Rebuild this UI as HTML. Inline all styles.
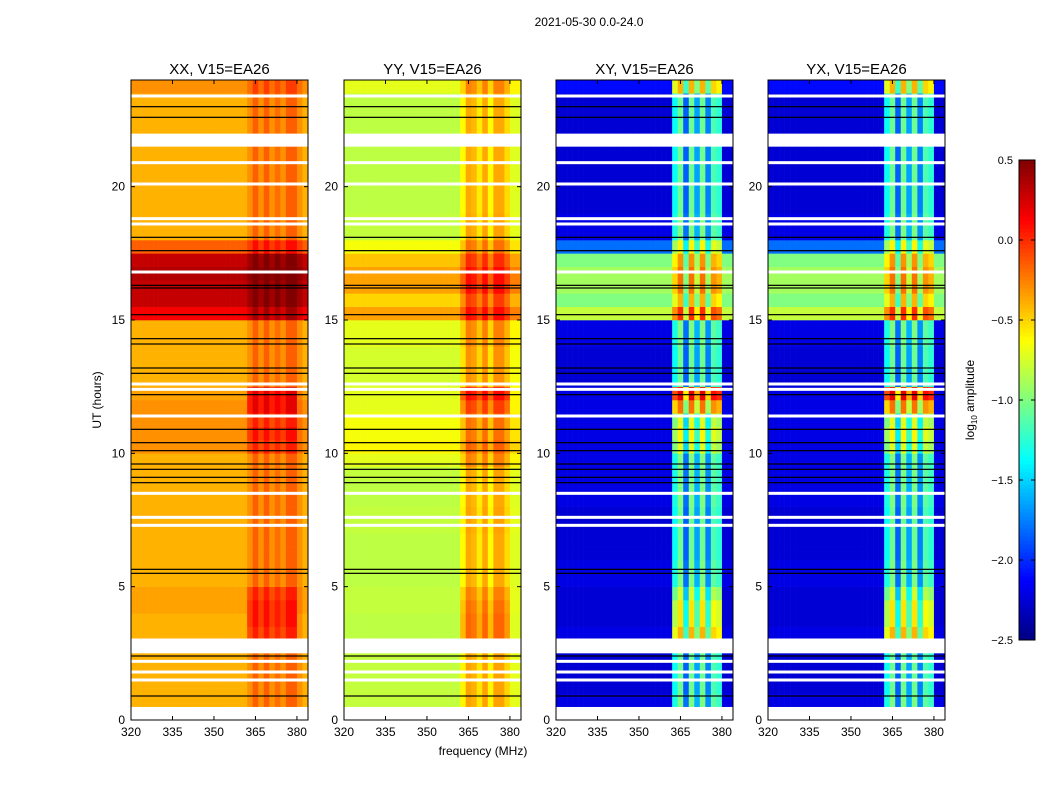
<!DOCTYPE html>
<html><head><meta charset="utf-8">
<style>
body{margin:0;background:#fff;font-family:"Liberation Sans","DejaVu Sans",sans-serif;}
svg text{font-family:"Liberation Sans","DejaVu Sans",sans-serif;}
</style></head>
<body>
<svg id="fig" width="1050" height="800" xmlns="http://www.w3.org/2000/svg">
<text x="589" y="26" font-size="12" text-anchor="middle">2021-05-30 0.0-24.0</text>
<text x="483" y="755" font-size="12" text-anchor="middle">frequency (MHz)</text>
<text transform="translate(101,400) rotate(-90)" font-size="12" text-anchor="middle">UT (hours)</text>
</svg>
<script>
const panelTitles = ["XX, V15=EA26","YY, V15=EA26","XY, V15=EA26","YX, V15=EA26"];
const panelLeft = [131,344,556,768];
const xTicks = [320,335,350,365,380];
const yTicks = [0,5,10,15,20];
const cbTicks = [0.5,0.0,-0.5,-1.0,-1.5,-2.0,-2.5];
const N=NaN;
// row levels: 48 half-hour rows (0-24 h)
const rowsXX = [N,-0.4,-0.4,-0.4,-0.4,N,-0.4,-0.4,-0.35,-0.35,-0.4,-0.4,-0.4,-0.4,-0.4,-0.4,-0.4,-0.4,-0.4,-0.4,-0.3,-0.3,-0.3,-0.3,-0.35,-0.4,-0.4,-0.4,-0.4,-0.4,0.15,0.3,0.3,0.35,0.3,-0.15,-0.4,-0.4,-0.4,-0.4,-0.4,-0.4,-0.4,N,-0.4,-0.4,-0.4,-0.3];
const rowsYY = [N,-0.8,-0.8,-0.8,-0.8,N,-0.82,-0.82,-0.8,-0.8,-0.82,-0.82,-0.82,-0.82,-0.8,-0.8,-0.82,-0.82,-0.8,-0.7,-0.6,-0.65,-0.65,-0.7,-0.7,-0.75,-0.75,-0.75,-0.7,-0.7,-0.35,-0.5,-0.35,-0.35,-0.45,-0.65,-0.8,-0.8,-0.82,-0.82,-0.82,-0.82,-0.82,N,-0.82,-0.82,-0.82,-0.7];
const rowsXY = [N,-2.2,-2.25,-2.25,-2.25,N,-2.2,-2.25,-2.25,-2.25,-2.2,-2.2,-2.25,-2.25,-2.25,-2.25,-2.2,-2.2,-2.2,-2.2,-2.2,-2.2,-2.2,-2.2,-2.2,-2.25,-2.25,-2.25,-2.2,-2.2,-0.8,-1.0,-0.9,-0.9,-1.0,-1.8,-2.2,-2.2,-2.25,-2.25,-2.25,-2.25,-2.25,N,-2.25,-2.25,-2.25,-2.1];
const rowsYX = [N,-2.2,-2.25,-2.25,-2.25,N,-2.2,-2.25,-2.25,-2.25,-2.2,-2.2,-2.25,-2.25,-2.25,-2.25,-2.2,-2.2,-2.2,-2.2,-2.2,-2.2,-2.2,-2.2,-2.2,-2.25,-2.25,-2.25,-2.2,-2.2,-0.8,-1.0,-0.9,-0.9,-1.0,-1.8,-2.2,-2.2,-2.25,-2.25,-2.25,-2.25,-2.25,N,-2.25,-2.25,-2.25,-2.1];
// extra level applied only to the 362-382 MHz band, per half-hour row
const bandXX = [0,0,0,0,0,0,0.2,0.25,0.2,0.15,0,0,0,0,0,0,0,0,0,0,0.1,0.15,0.1,0.25,0.3,0,0,0,0,0,0,0,0,0,0,0,0,0,0,0,0,0,0,0,0,0,0,0];
const bandYY = [0,0,0,0,0,0,0.2,0.2,0.15,0.1,0,0,0,0,0,0,0,0,0,0,0,0,0,0.2,0.35,0,0,0,0,0,0,0,0,0,0,0,0,0,0,0,0,0,0,0,0,0,0,0];
const bandXY = [0,0,0,0,0,0,0.6,0.5,0.5,0.3,0,0,0,0,0,0,0,0,0,0,0.3,0.4,0.3,0.8,1.2,0,0,0,0,0,-0.4,-0.6,-0.5,-0.5,-0.5,0,0,0,0,0,0,0,0,0,0,0,0,0.5];
const bandYX = [0,0,0,0,0,0,0.6,0.5,0.5,0.3,0,0,0,0,0,0,0,0,0,0,0.3,0.4,0.3,0.8,1.2,0,0,0,0,0,-0.4,-0.6,-0.5,-0.5,-0.5,0,0,0,0,0,0,0,0,0,0,0,0,0.5];
// column offsets: 32 columns of 2 MHz (320-384)
const colsXX = [0,0,0,0,0,0,0,0,0,0,0,0,0,0,0,0,0,0,0,0,0,0.1,0.25,0.1,0.25,0.1,0.2,0.1,0.25,0.25,0.1,0];
const colsYY = [0,0,0,0,0,0,0,0,0,0,0,0,0,0,0,0,0,0,0,0,0,0.2,0.45,0.4,0.25,0.45,0.2,0.45,0.45,0.3,0.1,0.1];
const colsXY = [0,0,0,0,0,0,0,0,0,0,0,0,0,0,0,0,0,0,0,0,0,0.9,1.2,0.4,1.2,0.6,1.2,0.5,1.1,1.0,0,0];
const colsYX = [0,0,0,0,0,0,0,0,0,0,0,0,0,0,0,0,0,0,0,0,0,0.9,1.2,0.4,1.2,0.6,1.2,0.5,1.1,1.0,0,0];
const blackLines = [0.9,2.4,5.5,5.65,8.9,9.1,9.4,9.6,10.1,10.4,10.9,12.2,13.0,13.2,14.1,14.3,15.2,16.2,16.3,17.6,18.1,22.6,23.0];
const whiteLines = [1.5,1.8,2.2,3.0,7.3,7.6,8.5,11.4,12.4,12.6,16.8,18.6,18.8,20.1,20.9,23.4];
const allRows=[rowsXX,rowsYY,rowsXY,rowsYX], allCols=[colsXX,colsYY,colsXY,colsYX], allBand=[bandXX,bandYY,bandXY,bandYX];

const NS="http://www.w3.org/2000/svg", svg=document.getElementById('fig');
function mk(t,a,p){const e=document.createElementNS(NS,t);for(const k in a)e.setAttribute(k,a[k]);(p||svg).appendChild(e);return e;}
const PW=177,TOP=80,BOT=720,FMIN=320,FMAX=384,TMAX=24;
function jet(v){let t=(v+2.5)/3;t=Math.max(0,Math.min(1,t));
 const f=x=>Math.max(0,Math.min(1,x));
 const r=f(1.5-Math.abs(4*t-3)),g=f(1.5-Math.abs(4*t-2)),b=f(1.5-Math.abs(4*t-1));
 return `rgb(${Math.round(r*255)},${Math.round(g*255)},${Math.round(b*255)})`;}
const yScale=t=>BOT-(t/TMAX)*(BOT-TOP);
panelLeft.forEach((L,p)=>{
 const xScale=f=>L+(f-FMIN)/(FMAX-FMIN)*PW;
 const g=mk('g',{});
 
 
 const rows=allRows[p],cols=allCols[p],band=allBand[p];
 rows.forEach((rv,i)=>{
  if(isNaN(rv))return;
  cols.forEach((cv,j)=>{
   const inBand=(j>=21&&j<=29);
   const v=rv+cv+(inBand?band[i]:0);
   const x0=xScale(FMIN+j*2),x1=xScale(FMIN+j*2+2),y0=yScale(i*0.5+0.5),y1=yScale(i*0.5);
   const r=mk('rect',{x:x0,y:y0,width:x1-x0+0.3,height:y1-y0+0.3,fill:jet(v)},g);
   
   
  });
 });
 whiteLines.forEach(t=>{const r=mk('rect',{x:L,y:yScale(t)-1.5,width:PW,height:3,fill:'#fff'},g);
  });
 blackLines.forEach(t=>{const r=mk('rect',{x:L,y:yScale(t)-0.6,width:PW,height:1.2,fill:'#000'},g);
  });
 const fr=mk('rect',{x:L,y:TOP,width:PW,height:BOT-TOP,fill:'none',stroke:'#000','stroke-width':1},g);
 
 const tt=mk('text',{x:L+PW/2,y:TOP-6,'font-size':15,'text-anchor':'middle'},g);tt.textContent=panelTitles[p];
 
 xTicks.forEach(v=>{const x=xScale(v);
  mk('line',{x1:x,x2:x,y1:BOT,y2:BOT-4,stroke:'#000'},g);mk('line',{x1:x,x2:x,y1:TOP,y2:TOP+4,stroke:'#000'},g);
  const t=mk('text',{x:x,y:BOT+16,'font-size':12,'text-anchor':'middle'},g);t.textContent=v;
  });
 yTicks.forEach(v=>{const y=yScale(v);
  mk('line',{x1:L,x2:L+4,y1:y,y2:y,stroke:'#000'},g);mk('line',{x1:L+PW,x2:L+PW-4,y1:y,y2:y,stroke:'#000'},g);
  const t=mk('text',{x:L-6,y:y+4,'font-size':12,'text-anchor':'end'},g);t.textContent=v;
  });
});
// colorbar
const CB={x:1019,w:16,top:160,bot:640};
const cbg=mk('g',{});
const cbY=v=>CB.bot-(v+2.5)/3*(CB.bot-CB.top);
for(let i=0;i<120;i++){const v=-2.5+3*i/120;
 mk('rect',{x:CB.x,y:cbY(v+3/120),width:CB.w,height:(CB.bot-CB.top)/120+0.5,fill:jet(v+1.5/120)},cbg);}
mk('rect',{x:CB.x,y:CB.top,width:CB.w,height:CB.bot-CB.top,fill:'none',stroke:'#000'},cbg);
cbTicks.forEach(v=>{const y=cbY(v);
 mk('line',{x1:CB.x,x2:CB.x+4,y1:y,y2:y,stroke:'#000'},cbg);
 mk('line',{x1:CB.x+CB.w-4,x2:CB.x+CB.w,y1:y,y2:y,stroke:'#000'},cbg);
 const t=mk('text',{x:CB.x-6,y:y+4,'font-size':11,'text-anchor':'end'},cbg);t.textContent=(v<0?'\u2212':'')+Math.abs(v).toFixed(1);
 });
const cl=mk('text',{transform:'translate(974,400) rotate(-90)','font-size':12,'text-anchor':'middle'});
cl.innerHTML='log<tspan font-size="8" dy="3">10</tspan><tspan dy="-3"> amplitude</tspan>';

</script>
</body></html>
